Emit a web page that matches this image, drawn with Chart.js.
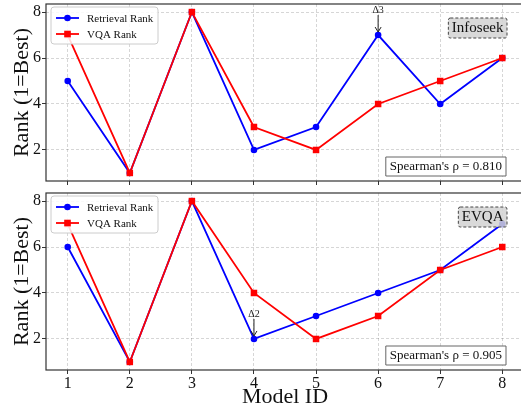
<!DOCTYPE html>
<html>
<head>
<meta charset="utf-8">
<script src="https://cdn.jsdelivr.net/npm/chart.js@4.4.1/dist/chart.umd.min.js"></script>
<style>
  html, body { margin: 0; padding: 0; background: #fff; overflow: hidden; }
  #wrap { position: relative; width: 524px; height: 414px; }
  #topPanel { position: absolute; left: 0; top: 0; }
  #bottomPanel { position: absolute; left: 0; top: 190px; }
</style>
</head>
<body>
<div id="wrap">
  <canvas id="topPanel" width="524" height="190"></canvas>
  <canvas id="bottomPanel" width="524" height="224"></canvas>
</div>
<script>
// Data
const modelIds = [1, 2, 3, 4, 5, 6, 7, 8];
const yTicks = [2, 4, 6, 8];
const infoseekRetrieval = [5, 1, 8, 2, 3, 7, 4, 6];
const infoseekVqa = [7, 1, 8, 3, 2, 4, 5, 6];
const evqaRetrieval = [6, 1, 8, 2, 3, 4, 5, 7];
const evqaVqa = [7, 1, 8, 4, 2, 3, 5, 6];
const panelNames = ['Infoseek', 'EVQA'];
const spearmanRho = ['0.810', '0.905'];
const deltaNotes = [{ x: 6, y: 7, text: 'Δ3' }, { x: 4, y: 2, text: 'Δ2' }];

const SERIF = '"Liberation Serif", "Times New Roman", serif';

// Draws spines, legend, text boxes and the delta arrow on top of the lines
const panelDecor = {
    id: 'panelDecor',
    afterDatasetsDraw(chart, args, opts) {
        const ctx = chart.ctx;
        const a = chart.chartArea;
        const xs = chart.scales.x, ys = chart.scales.y;
        ctx.save();

        // frame
        ctx.strokeStyle = '#333';
        ctx.lineWidth = 1.2;
        ctx.strokeRect(a.left, a.top, a.right - a.left, a.bottom - a.top);

        // delta annotation
        const px = xs.getPixelForValue(opts.note.x);
        const py = ys.getPixelForValue(opts.note.y);
        ctx.fillStyle = '#222';
        ctx.font = '10px ' + SERIF;
        ctx.textAlign = 'center';
        ctx.textBaseline = 'middle';
        ctx.fillText(opts.note.text, px, py - 25);
        ctx.strokeStyle = '#222';
        ctx.lineWidth = 1;
        ctx.beginPath();
        ctx.moveTo(px, py - 20);
        ctx.lineTo(px, py - 3);
        ctx.moveTo(px - 3, py - 8);
        ctx.lineTo(px, py - 3);
        ctx.lineTo(px + 3, py - 8);
        ctx.stroke();

        // legend
        const lx = a.left + 5, ly = a.top + 3;
        ctx.fillStyle = 'rgba(255,255,255,0.85)';
        ctx.strokeStyle = '#cccccc';
        ctx.beginPath();
        ctx.roundRect(lx, ly, 107, 37, 3);
        ctx.fill();
        ctx.stroke();
        chart.data.datasets.slice().sort((d1, d2) => d1.legendIndex - d2.legendIndex).forEach((ds, i) => {
            const ry = ly + 11 + i * 16;
            ctx.strokeStyle = ds.borderColor;
            ctx.lineWidth = 1.8;
            ctx.beginPath();
            ctx.moveTo(lx + 5, ry);
            ctx.lineTo(lx + 28, ry);
            ctx.stroke();
            ctx.fillStyle = ds.borderColor;
            ctx.beginPath();
            if (ds.pointStyle === 'rect') {
                ctx.rect(lx + 13.2, ry - 3.3, 6.6, 6.6);
            } else {
                ctx.arc(lx + 16.5, ry, 3.3, 0, Math.PI * 2);
            }
            ctx.fill();
            ctx.fillStyle = '#111';
            ctx.font = '11px ' + SERIF;
            ctx.textAlign = 'left';
            ctx.textBaseline = 'middle';
            ctx.fillText(ds.label, lx + 36, ry + 1);
        });

        // dataset name box (dashed, grey)
        ctx.font = '15px ' + SERIF;
        const nw = ctx.measureText(opts.name).width + 7;
        const nx = a.right - 17 - nw, ny = a.top + 14;
        ctx.fillStyle = 'rgba(210,210,210,0.85)';
        ctx.strokeStyle = '#444';
        ctx.lineWidth = 1;
        ctx.setLineDash([3, 2]);
        ctx.beginPath();
        ctx.roundRect(nx, ny, nw, 20, 2);
        ctx.fill();
        ctx.stroke();
        ctx.setLineDash([]);
        ctx.fillStyle = '#111';
        ctx.textAlign = 'center';
        ctx.textBaseline = 'middle';
        ctx.fillText(opts.name, nx + nw / 2, ny + 10.5);

        // spearman box
        const label = "Spearman's ρ = " + opts.rho;
        ctx.font = '13px ' + SERIF;
        const sw = ctx.measureText(label).width + 8;
        const sx = a.right - 18 - sw, sy = a.bottom - 24;
        ctx.fillStyle = '#fff';
        ctx.strokeStyle = '#666';
        ctx.beginPath();
        ctx.rect(sx, sy, sw, 19);
        ctx.fill();
        ctx.stroke();
        ctx.fillStyle = '#111';
        ctx.fillText(label, sx + sw / 2, sy + 10);

        ctx.restore();
    }
};

function makePanel(canvasId, retrieval, vqa, idx, showX) {
    const ctx = document.getElementById(canvasId).getContext('2d');
    const axisHeight = showX ? 44 : 9;
    return new Chart(ctx, {
        type: 'line',
        data: {
            datasets: [{
                label: 'Retrieval Rank',
                legendIndex: 0,
                order: 1,
                data: modelIds.map((m, i) => ({ x: m, y: retrieval[i] })),
                borderColor: '#0000ff',
                backgroundColor: '#0000ff',
                borderWidth: 1.8,
                pointStyle: 'circle',
                pointRadius: 3.3,
                pointBorderWidth: 0
            }, {
                label: 'VQA Rank',
                legendIndex: 1,
                order: 0,
                data: modelIds.map((m, i) => ({ x: m, y: vqa[i] })),
                borderColor: '#ff0000',
                backgroundColor: '#ff0000',
                borderWidth: 1.8,
                pointStyle: 'rect',
                pointRadius: 4.6,
                pointBorderWidth: 0
            }]
        },
        options: {
            responsive: false,
            animation: false,
            layout: { autoPadding: false, padding: { top: showX ? 3 : 4, right: 0, left: 0, bottom: 0 } },
            scales: {
                x: {
                    type: 'linear',
                    min: 0.65,
                    max: 8.35,
                    afterBuildTicks: s => { s.ticks = modelIds.map(v => ({ value: v })); },
                    afterFit: s => { s.height = axisHeight; s.paddingLeft = 0; s.paddingRight = 0; },
                    border: { display: false, dash: [3, 2] },
                    grid: { color: 'rgba(0,0,0,0.16)', tickColor: '#333', tickLength: 4, drawTicks: true },
                    ticks: {
                        display: showX,
                        padding: 0,
                        color: '#111',
                        font: { family: SERIF, size: 16 }
                    },
                    title: {
                        display: showX,
                        text: 'Model ID',
                        color: '#111',
                        font: { family: SERIF, size: 22 },
                        padding: { top: 0, bottom: 4 }
                    }
                },
                y: {
                    min: 0.65,
                    max: 8.35,
                    afterBuildTicks: s => { s.ticks = yTicks.map(v => ({ value: v })); },
                    afterFit: s => { s.width = 46; s.paddingTop = 0; s.paddingBottom = 0; },
                    border: { display: false, dash: [3, 2] },
                    grid: { color: 'rgba(0,0,0,0.16)', tickColor: '#333', tickLength: 4, drawTicks: true },
                    ticks: {
                        padding: 1,
                        color: '#111',
                        font: { family: SERIF, size: 16 }
                    },
                    title: {
                        display: true,
                        text: 'Rank (1=Best)',
                        color: '#111',
                        font: { family: SERIF, size: 22 },
                        padding: { top: 9, bottom: 0 }
                    }
                }
            },
            plugins: {
                legend: { display: false },
                tooltip: { enabled: false },
                panelDecor: { name: panelNames[idx], rho: spearmanRho[idx], note: deltaNotes[idx] }
            }
        },
        plugins: [panelDecor]
    });
}

makePanel('topPanel', infoseekRetrieval, infoseekVqa, 0, false);
makePanel('bottomPanel', evqaRetrieval, evqaVqa, 1, true);
</script>
</body>
</html>
